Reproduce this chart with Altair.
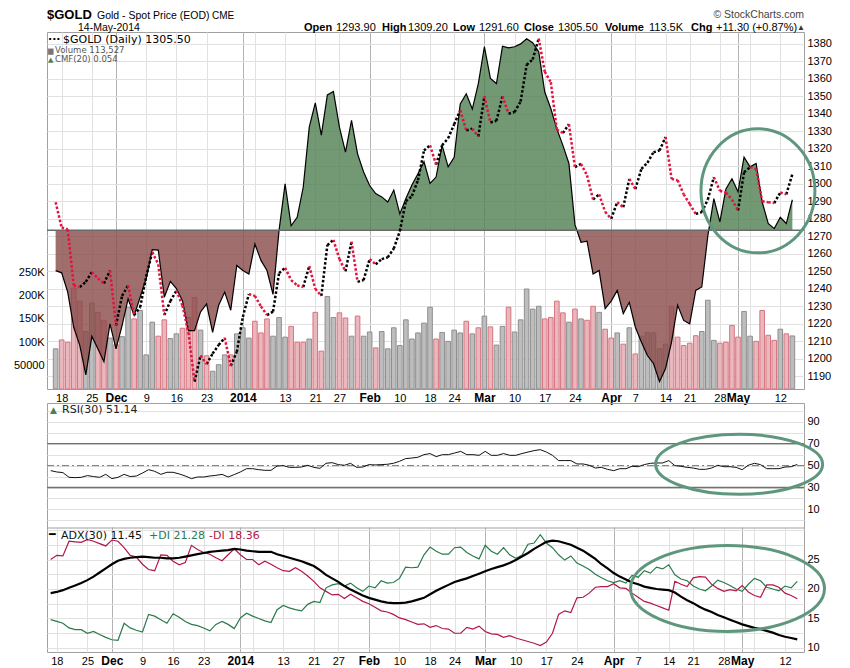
import altair as alt
import pandas as pd

# ---------------- data (trading-day index 0 = 15-Nov-2013 ... 122 = 14-May-2014) -------------
close = [1289.5, 1275, 1274, 1242, 1241, 1244, 1249.6, 1246, 1243, 1250.5,
         1219, 1236, 1242, 1225, 1229.5, 1247, 1261, 1254, 1225, 1233,
         1239, 1230.5, 1215, 1187, 1202, 1197, 1203, 1208, 1212, 1196,
         1204, 1224, 1237, 1236, 1230, 1225, 1227, 1249, 1252, 1245,
         1242, 1241, 1253, 1240, 1236, 1265, 1268, 1257, 1250, 1267,
         1244, 1245, 1257, 1254, 1257, 1258, 1263, 1273, 1290, 1293,
         1302, 1319, 1322, 1311, 1322, 1326, 1334, 1342, 1330.5, 1331.5,
         1327, 1350, 1335, 1336, 1350, 1340, 1341, 1347, 1368, 1371,
         1383, 1364, 1358, 1331, 1329, 1334, 1309.5, 1311.4, 1304.8, 1291,
         1294, 1284, 1280, 1289.5, 1286.6, 1302.8, 1297, 1308.5, 1312, 1318,
         1319, 1326.7, 1302.8, 1302, 1294, 1288.5, 1282.8, 1283.8, 1291, 1303.8,
         1296, 1295, 1291, 1284.8, 1306.6, 1309.5, 1308.5, 1290, 1289.5, 1289,
         1295, 1294, 1305.5]

volume = [86000, 105000, 100000, 216000, 188000, 123000, 184000, 164000, 147000, 109000,
          95000, 112000, 175000, 150000, 168000, 73000, 143000, 113000, 148000, 108000,
          118000, 130000, 153000, 196000, 126000, 71000, 38000, 52000, 73000, 73000,
          118000, 131000, 109000, 145000, 120000, 150000, 113000, 153000, 111000, 134000,
          100000, 100000, 107000, 164000, 81000, 198000, 153000, 163000, 152000, 113000,
          156000, 113000, 122000, 88000, 123000, 86000, 131000, 93000, 148000, 107000,
          120000, 141000, 175000, 107000, 121000, 102000, 126000, 120000, 145000, 118000,
          131000, 156000, 133000, 94000, 134000, 175000, 122000, 148000, 214000, 171000,
          177000, 150000, 153000, 188000, 163000, 143000, 171000, 150000, 147000, 177000,
          164000, 128000, 109000, 120000, 96000, 131000, 75000, 113000, 121000, 120000,
          86000, 96000, 177000, 111000, 93000, 98000, 114000, 123000, 190000, 104000,
          98000, 100000, 136000, 111000, 166000, 113000, 102000, 168000, 115000, 104000,
          128000, 118000, 113527]

cmf = [-0.071, -0.075, -0.109, -0.171, -0.203, -0.255, -0.187, -0.209, -0.232, -0.165,
       -0.209, -0.168, -0.121, -0.150, -0.118, -0.085, -0.034, -0.035, -0.118, -0.090,
       -0.103, -0.124, -0.177, -0.177, -0.144, -0.130, -0.180, -0.132, -0.109, -0.141,
       -0.062, -0.071, -0.077, -0.024, -0.053, -0.071, -0.113, 0.000, 0.082, 0.008,
       0.023, 0.076, 0.182, 0.225, 0.168, 0.239, 0.245, 0.182, 0.138, 0.194,
       0.135, 0.103, 0.079, 0.065, 0.059, 0.050, 0.071, 0.029, 0.056, 0.080,
       0.100, 0.121, 0.083, 0.094, 0.150, 0.112, 0.129, 0.223, 0.241, 0.214,
       0.259, 0.324, 0.268, 0.259, 0.325, 0.322, 0.324, 0.329, 0.338, 0.331,
       0.315, 0.244, 0.215, 0.179, 0.150, 0.118, 0.010, -0.021, -0.019, -0.077,
       -0.071, -0.138, -0.125, -0.106, -0.147, -0.127, -0.171, -0.197, -0.221, -0.235,
       -0.267, -0.244, -0.197, -0.132, -0.159, -0.165, -0.106, -0.100, -0.010, 0.056,
       0.015, 0.073, 0.091, 0.068, 0.129, 0.112, 0.118, 0.050, 0.012, 0.003,
       0.023, 0.012, 0.054]

rsi = [45.4, 44.2, 43.6, 39.3, 39.0, 39.3, 40.9, 40.0, 39.3, 42.0,
       38.1, 39.3, 42.0, 40.0, 40.5, 43.2, 46.3, 44.8, 42.0, 43.9,
       43.9, 42.4, 40.5, 38.1, 39.6, 39.6, 40.5, 41.1, 42.0, 39.6,
       41.8, 44.2, 47.2, 47.2, 46.3, 45.7, 45.7, 49.6, 50.0, 48.4,
       48.4, 48.7, 50.3, 48.4, 47.5, 52.1, 52.7, 50.9, 50.3, 52.1,
       48.4, 48.7, 50.9, 50.6, 50.9, 51.2, 52.1, 53.9, 56.4, 56.9,
       57.6, 60.0, 61.0, 58.2, 60.0, 60.0, 61.5, 63.0, 60.0, 60.0,
       59.4, 63.0, 59.4, 59.4, 61.0, 59.4, 59.4, 61.0, 62.4, 63.7,
       64.6, 62.4, 59.4, 54.6, 54.6, 54.6, 51.5, 51.5, 50.3, 47.8,
       48.4, 46.6, 45.4, 47.2, 47.2, 49.4, 49.0, 50.9, 52.1, 52.4,
       52.4, 54.6, 50.0, 49.4, 48.4, 47.8, 46.6, 46.6, 47.8, 50.3,
       49.0, 49.0, 48.4, 46.3, 50.3, 52.1, 50.9, 47.2, 47.2, 47.2,
       48.7, 49.0, 51.1]

adx = [19.3, 19.5, 19.8, 20.2, 20.6, 21.0, 21.5, 22.1, 22.8, 23.5,
       24.2, 24.8, 25.1, 25.3, 25.4, 25.5, 25.4, 25.3, 25.3, 25.2,
       25.2, 25.3, 25.5, 25.7, 25.9, 26.1, 26.3, 26.4, 26.5, 26.6,
       26.8, 26.7, 26.5, 26.4, 26.3, 26.3, 26.3, 25.9, 25.6, 25.3,
       25.0, 24.7, 24.3, 23.9, 23.2, 22.4, 21.8, 21.2, 20.5, 19.9,
       19.4, 18.9, 18.5, 18.2, 17.9, 17.7, 17.6, 17.6, 17.7, 17.9,
       18.2, 18.5, 19.1, 19.7, 20.2, 20.7, 21.2, 21.5, 21.8, 22.2,
       22.6, 23.0, 23.4, 23.7, 24.0, 24.4, 24.9, 25.5, 26.1, 26.8,
       27.4, 28.0, 28.2, 28.1, 27.8, 27.5, 27.0, 26.5, 25.8, 25.1,
       24.2, 23.5, 22.7, 22.1, 21.6, 21.1, 20.8, 20.4, 20.2, 20.0,
       19.9, 19.8, 19.4, 18.7, 18.1, 17.6, 17.0, 16.5, 16.1, 15.6,
       15.2, 14.8, 14.4, 14.0, 13.7, 13.4, 13.2, 12.9, 12.6, 12.2,
       11.9, 11.7, 11.45]

plus_di = [14.8, 14.5, 14.2, 13.4, 13.1, 13.1, 12.5, 12.8, 12.3, 11.8,
           11.4, 11.3, 14.2, 13.4, 13.0, 12.7, 15.7, 15.4, 14.8, 14.2,
           15.8, 15.2, 14.5, 14.0, 13.8, 13.4, 12.9, 14.0, 14.5, 14.0,
           13.3, 15.1, 15.9, 15.4, 15.0, 14.6, 14.3, 16.5, 17.2, 16.8,
           16.5, 16.3, 17.4, 17.9, 17.7, 20.2, 20.7, 20.9, 20.5, 21.0,
           20.2, 19.6, 20.5, 20.2, 21.4, 21.0, 21.1, 21.8, 23.7, 23.6,
           23.7, 25.8, 27.1, 26.4, 25.9, 25.9, 27.0, 27.1, 26.2, 25.6,
           25.1, 27.4, 26.4, 25.9, 27.0, 25.8, 25.2, 25.7, 27.6, 27.8,
           29.2, 27.8, 27.0, 25.8, 24.9, 25.6, 24.4, 23.9, 23.3, 22.5,
           21.9, 21.4, 21.1, 21.4, 21.0, 22.3, 22.0, 23.1, 22.7, 23.7,
           23.4, 24.1, 22.4, 21.7, 21.4, 20.5, 20.0, 19.7, 20.5, 21.5,
           21.1, 20.6, 20.0, 19.6, 20.8, 21.8, 21.4, 20.3, 20.0, 19.7,
           20.5, 20.2, 21.28]

minus_di = [25.0, 25.7, 25.6, 28.1, 28.0, 27.9, 28.4, 28.1, 27.7, 27.3,
            28.3, 28.1, 27.0, 25.7, 25.4, 24.2, 23.3, 23.1, 25.8, 25.7,
            24.7, 24.1, 24.5, 27.4, 26.7, 26.2, 25.9, 25.3, 24.8, 25.8,
            26.8, 25.8, 25.0, 25.0, 24.1, 24.7, 24.2, 23.6, 23.1, 23.0,
            23.6, 23.0, 22.2, 21.3, 20.2, 19.6, 19.0, 19.1, 18.4, 19.1,
            18.5, 17.9, 17.5, 16.9, 16.3, 16.1, 15.7, 15.1, 14.8, 14.4,
            14.0, 14.1, 13.5, 13.8, 13.3, 13.2, 12.5, 12.5, 13.5, 13.2,
            13.7, 12.8, 12.4, 12.3, 11.8, 12.1, 11.7, 11.4, 11.1, 10.8,
            10.4, 11.0, 12.5, 15.7, 16.3, 16.0, 18.5, 18.6, 19.3, 20.3,
            20.4, 20.4, 20.9, 20.2, 20.1, 19.3, 18.6, 17.9, 17.6, 17.2,
            16.8, 16.4, 21.3, 20.8, 20.4, 21.9, 22.1, 22.0, 20.8, 20.1,
            19.6, 19.9, 19.7, 20.6, 19.5, 18.9, 18.6, 20.7, 20.7, 20.3,
            19.3, 18.9, 18.36]

tick_idx = [1, 6, 10, 15, 20, 25, 31, 33, 38, 43, 47, 52, 57, 62, 66, 71, 76, 81, 86,
            92, 96, 101, 105, 110, 113, 115, 120]
tick_lbl = ['18', '25', 'Dec', '9', '16', '23', '2014', '', '13', '21', '27', 'Feb', '10',
            '18', '24', 'Mar', '10', '17', '24', 'Apr', '7', '14', '21', '28', 'May', '', '12']
month_idx = [10, 31, 52, 71, 92, 113]

price_ticks = list(range(1190, 1381, 10))
volume_ticks = [50000, 100000, 150000, 200000, 250000]
rsi_ticks = list(range(0, 101, 10))
adx_ticks = [10, 12.5, 15, 17.5, 20, 22.5, 25, 27.5, 30]
rsi_bands = [30, 70]
rsi_mid = [50]

# annotation ellipses (centre in data units)
ell_main = {'i': [116.3], 'v': [1296.0]}
ell_rsi = {'i': [112.5], 'v': [51.2]}
ell_adx = {'i': [110.6], 'v': [20.1]}

# ---------------- frames ----------------
n = len(close)
direction = ['up' if k == 0 or close[k] >= close[k - 1] else 'down' for k in range(n)]
bars = pd.DataFrame({'i': list(range(n)), 'vol': volume, 'dir': direction})
segs = pd.DataFrame({'x0': list(range(n - 1)), 'x1': list(range(1, n)),
                     'p0': close[:-1], 'p1': close[1:], 'dir': direction[1:]})

# CMF polygon split at zero crossings
cx, cv = [], []
for k in range(n):
    cx.append(float(k)); cv.append(cmf[k])
    if k < n - 1 and cmf[k] * cmf[k + 1] < 0:
        t = cmf[k] / (cmf[k] - cmf[k + 1])
        cx.append(k + t); cv.append(0.0)
cmf_df = pd.DataFrame({'x': cx, 'pos': [max(v, 0) for v in cv],
                       'neg': [min(v, 0) for v in cv], 'z': 0.0})
cmf_line_df = pd.DataFrame({'i': list(range(n)), 'cmf': cmf})
ind = pd.DataFrame({'i': list(range(n)), 'rsi': rsi, 'adx': adx, 'pdi': plus_di, 'mdi': minus_di})

# ---------------- scales / axes ----------------
month_test = 'indexof(%s, datum.value) >= 0' % str(month_idx)
lab_expr = '%s[indexof(%s, datum.value)]' % (str(tick_lbl), str(tick_idx))
XS = alt.Scale(domain=[-0.6, 123.1], nice=False, zero=False)
XAX = alt.Axis(values=tick_idx, labelExpr=lab_expr, title=None, ticks=False, domain=False,
               labelFontWeight=alt.condition(month_test, alt.value('bold'), alt.value('normal')),
               labelFontSize=alt.condition(month_test, alt.value(12), alt.value(11)),
               grid=True,
               gridColor=alt.condition(month_test, alt.value('#b3b3b3'), alt.value('#e1e1e1')),
               labelPadding=3, labelOverlap=False, labelFlush=False, labelBound=False)


def X(f):
    return alt.X(f, type='quantitative', scale=XS, axis=XAX)


PS = alt.Scale(domain=[1182.8, 1386.7], nice=False, zero=False)
PAX = alt.Axis(orient='right', values=price_ticks, format='d', grid=True, gridColor='#e1e1e1',
               domain=False, ticks=False, labelPadding=3, title=None)
VS = alt.Scale(domain=[0, 764000], nice=False)
VAX = alt.Axis(orient='left', values=volume_ticks, grid=False, domain=False, ticks=False,
               labelPadding=3, title=None,
               labelExpr="datum.value >= 100000 ? format(datum.value / 1000, 'd') + 'K' : format(datum.value, 'd')")
CS = alt.Scale(domain=[-0.280, 0.350], nice=False, zero=False)
RS = alt.Scale(domain=[-7, 107.2], range=[125, 0], nice=False, zero=False)
RAX = alt.Axis(orient='right', values=rsi_ticks, grid=True, gridColor='#e1e1e1', domain=False,
               ticks=False, labelPadding=3, title=None,
               labelExpr="datum.value % 20 == 10 ? datum.label : ''")
AS = alt.Scale(domain=[9.32, 30.34], range=[249, 125], nice=False, zero=False)
AAX = alt.Axis(orient='right', values=adx_ticks, grid=True, gridColor='#e1e1e1', domain=False,
               ticks=False, labelPadding=3, title=None,
               labelExpr="(datum.value % 5 == 0 && datum.value < 30) ? datum.label : ''")


def ellipse_path(rx, ry):
    return 'M %g 0 A %g %g 0 1 0 %g 0 A %g %g 0 1 0 %g 0 Z' % (-rx, rx, ry, rx, rx, ry, -rx)


ELL_COLOR = '#5f977e'


def txt(s, x, y, size=11, weight='normal', color='#000', align='left', font='Liberation Sans'):
    return alt.Chart(pd.DataFrame({'t': [s]})).mark_text(
        fontSize=size, fontWeight=weight, color=color,
        align=align, baseline='alphabetic', font=font).encode(
        text=alt.Text('t:N'), x=alt.value(x), y=alt.value(y))


# ---------------- main panel ----------------
bars_up = alt.Chart(bars).transform_filter("datum.dir == 'up'").mark_bar(
    size=4.6, fill='#bdbdbd', stroke='#8e8e8e', strokeWidth=1).encode(
    x=X('i'), y=alt.Y('vol', type='quantitative', scale=VS, axis=VAX))
bars_dn = alt.Chart(bars).transform_filter("datum.dir == 'down'").mark_bar(
    size=4.6, fill='#e9b8be', stroke='#d7737e', strokeWidth=1).encode(
    x=X('i'), y=alt.Y('vol', type='quantitative', scale=VS, axis=VAX))
vol_layer = alt.layer(bars_up, bars_dn)

area_pos = alt.Chart(cmf_df).mark_area(color='#4f7f50', opacity=0.8).encode(
    x=X('x'), y=alt.Y('pos', type='quantitative', scale=CS, axis=None), y2='z')
area_neg = alt.Chart(cmf_df).mark_area(color='#8a4a4a', opacity=0.8).encode(
    x=X('x'), y=alt.Y('neg', type='quantitative', scale=CS, axis=None), y2='z')
cmf_ln = alt.Chart(cmf_line_df).mark_line(color='#000', strokeWidth=1.2).encode(
    x=X('i'), y=alt.Y('cmf', type='quantitative', scale=CS, axis=None))
zero_rule = alt.Chart(pd.DataFrame({'z': [0.0]})).mark_rule(color='#6a6a6a', strokeWidth=1.5).encode(
    y=alt.Y('z', type='quantitative', scale=CS, axis=None))
cmf_layer = alt.layer(area_pos, area_neg, cmf_ln, zero_rule)

seg_up = alt.Chart(segs).transform_filter("datum.dir == 'up'").mark_rule(
    color='#000', strokeWidth=2.5, strokeDash=[2.5, 2]).encode(
    x=X('x0'), x2='x1', y=alt.Y('p0', type='quantitative', scale=PS, axis=PAX), y2='p1')
seg_dn = alt.Chart(segs).transform_filter("datum.dir == 'down'").mark_rule(
    color='#e3123f', strokeWidth=2.5, strokeDash=[2.5, 2]).encode(
    x=X('x0'), x2='x1', y=alt.Y('p0', type='quantitative', scale=PS, axis=PAX), y2='p1')
ell1 = alt.Chart(pd.DataFrame(ell_main)).mark_point(
    shape=ellipse_path(0.919, 1.0), size=124 ** 2, filled=False, strokeWidth=3,
    color=ELL_COLOR, opacity=1).encode(
    x=X('i'), y=alt.Y('v', type='quantitative', scale=PS, axis=PAX))
price_layer = alt.layer(seg_up, seg_dn, ell1)

HB = -12.8   # header first baseline (relative to plot top)
HB2 = -0.8   # header second baseline
main_texts = [
    txt('$GOLD', 0, HB, size=13, weight='bold'),
    txt('Gold - Spot Price (EOD)', 50, HB, size=10.5),
    txt('CME', 165, HB, size=10),
    txt('\u00a9 StockCharts.com', 757, HB - 1, size=10.5, color='#444', align='right'),
    txt('14-May-2014', 31, HB2, size=10.5),
    txt('Open', 257, HB2, size=11, weight='bold'),
    txt('1293.90', 289, HB2, size=11),
    txt('High', 335, HB2, size=11, weight='bold'),
    txt('1309.20', 361, HB2, size=11),
    txt('Low', 406, HB2, size=11, weight='bold'),
    txt('1291.60', 432, HB2, size=11),
    txt('Close', 477, HB2, size=11, weight='bold'),
    txt('1305.50', 511, HB2, size=11),
    txt('Volume', 558, HB2, size=11, weight='bold'),
    txt('113.5K', 602, HB2, size=11),
    txt('Chg', 644, HB2, size=11, weight='bold'),
    txt('+11.30 (+0.87%)', 669, HB2, size=11),
    txt('\u25b2', 754, HB2 - 1, size=8, color='#333', align='center'),
    txt('\u00b7\u00b7\u00b7', 1, 11, size=11, weight='bold', font='DejaVu Sans'),
    txt('$GOLD (Daily) 1305.50', 16, 11, size=11, font='DejaVu Sans'),
    txt('\u2586', 1, 21, size=7, color='#777', font='DejaVu Sans'),
    txt('Volume 113,527', 8, 21, size=8.5, color='#555', font='DejaVu Sans'),
    txt('\u25b2', 1, 30, size=7, color='#4f7f50', font='DejaVu Sans'),
    txt('CMF(20) 0.054', 8, 30, size=8.5, color='#555', font='DejaVu Sans'),
]

main = alt.layer(vol_layer, cmf_layer, price_layer, *main_texts).resolve_scale(
    y='independent').properties(width=757, height=357)

# ---------------- lower panel: RSI + ADX ----------------
rsi_b = alt.Chart(pd.DataFrame({'lv': rsi_bands})).mark_rule(color='#707070', strokeWidth=1.3).encode(
    y=alt.Y('lv', type='quantitative', scale=RS, axis=RAX))
rsi_m = alt.Chart(pd.DataFrame({'lv': rsi_mid})).mark_rule(
    color='#777', strokeWidth=1, strokeDash=[7, 3, 2, 3]).encode(
    y=alt.Y('lv', type='quantitative', scale=RS, axis=RAX))
divider = alt.Chart(pd.DataFrame({'lv': [RS.domain[0]]})).mark_rule(color='#a0a0a0', strokeWidth=1).encode(
    y=alt.Y('lv', type='quantitative', scale=RS, axis=RAX))
rsi_ln = alt.Chart(ind).mark_line(color='#111', strokeWidth=1).encode(
    x=X('i'), y=alt.Y('rsi', type='quantitative', scale=RS, axis=RAX))
ell2 = alt.Chart(pd.DataFrame(ell_rsi)).mark_point(
    shape=ellipse_path(1.0, 0.359), size=167 ** 2, filled=False, strokeWidth=3,
    color=ELL_COLOR, opacity=1).encode(
    x=X('i'), y=alt.Y('v', type='quantitative', scale=RS, axis=RAX))
rsi_layer = alt.layer(rsi_b, rsi_m, divider, rsi_ln, ell2)

mdi_ln = alt.Chart(ind).mark_line(color='#b3174a', strokeWidth=1.2).encode(
    x=X('i'), y=alt.Y('mdi', type='quantitative', scale=AS, axis=AAX))
pdi_ln = alt.Chart(ind).mark_line(color='#2b7a4b', strokeWidth=1.2).encode(
    x=X('i'), y=alt.Y('pdi', type='quantitative', scale=AS, axis=AAX))
adx_ln = alt.Chart(ind).mark_line(color='#000', strokeWidth=2.2).encode(
    x=X('i'), y=alt.Y('adx', type='quantitative', scale=AS, axis=AAX))
ell3 = alt.Chart(pd.DataFrame(ell_adx)).mark_point(
    shape=ellipse_path(1.0, 0.443), size=194 ** 2, filled=False, strokeWidth=3,
    color=ELL_COLOR, opacity=1).encode(
    x=X('i'), y=alt.Y('v', type='quantitative', scale=AS, axis=AAX))
adx_layer = alt.layer(mdi_ln, pdi_ln, adx_ln, ell3)

lower_texts = [
    txt('\u25b2', 3, 10, size=9, color='#4f7f50', font='DejaVu Sans'),
    txt('RSI(30) 51.14', 15, 10, size=11, color='#222', font='DejaVu Sans'),
    txt('\u2501', 2, 135, size=11, color='#000', font='DejaVu Sans'),
    txt('ADX(30) 11.45', 14, 135.5, size=11, color='#111', font='DejaVu Sans'),
    txt('+DI 21.28', 102, 135.5, size=11, color='#2b7a4b', font='DejaVu Sans'),
    txt('-DI 18.36', 162, 135.5, size=11, color='#b3174a', font='DejaVu Sans'),
]

lower = alt.layer(rsi_layer, adx_layer, *lower_texts).resolve_scale(
    y='independent').properties(width=757, height=249)

chart = alt.vconcat(main, lower, spacing=14, bounds='flush').properties(
    padding={'left': 4, 'right': 5, 'top': 0, 'bottom': 5},
    background='#ffffff'
).configure_view(stroke='#a0a0a0', strokeWidth=1).configure_axis(
    labelFont='Liberation Sans', labelFontSize=11, labelColor='#000')

chart.save('out.html', embed_options={'renderer': 'svg', 'actions': False})
